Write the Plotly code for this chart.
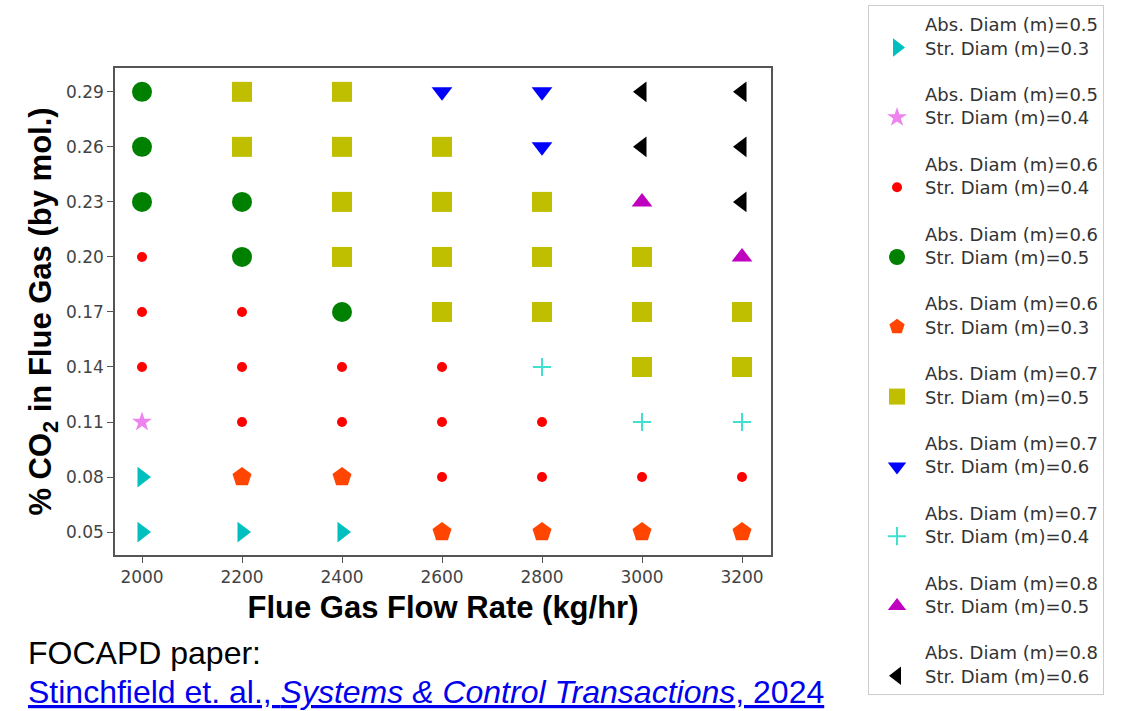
import plotly.graph_objects as go

# Grid of operating conditions
flow_rates = [2000, 2200, 2400, 2600, 2800, 3000, 3200]
co2_levels = [0.05, 0.08, 0.11, 0.14, 0.17, 0.20, 0.23, 0.26, 0.29]

# Optimal (absorber, stripper) diameters per design point
design_names = [
    "Abs. Diam (m)=0.5<br>Str. Diam (m)=0.3",
    "Abs. Diam (m)=0.5<br>Str. Diam (m)=0.4",
    "Abs. Diam (m)=0.6<br>Str. Diam (m)=0.4",
    "Abs. Diam (m)=0.6<br>Str. Diam (m)=0.5",
    "Abs. Diam (m)=0.6<br>Str. Diam (m)=0.3",
    "Abs. Diam (m)=0.7<br>Str. Diam (m)=0.5",
    "Abs. Diam (m)=0.7<br>Str. Diam (m)=0.6",
    "Abs. Diam (m)=0.7<br>Str. Diam (m)=0.4",
    "Abs. Diam (m)=0.8<br>Str. Diam (m)=0.5",
    "Abs. Diam (m)=0.8<br>Str. Diam (m)=0.6",
]

# Points (flow rate, CO2 fraction) belonging to each design
abs05_str03_x = [2000, 2000, 2200, 2400]
abs05_str03_y = [0.08, 0.05, 0.05, 0.05]

abs05_str04_x = [2000]
abs05_str04_y = [0.11]

abs06_str04_x = [2000, 2000, 2200, 2000, 2200, 2400, 2600, 2200, 2400, 2600, 2800, 2600, 2800, 3000, 3200]
abs06_str04_y = [0.20, 0.17, 0.17, 0.14, 0.14, 0.14, 0.14, 0.11, 0.11, 0.11, 0.11, 0.08, 0.08, 0.08, 0.08]

abs06_str05_x = [2000, 2000, 2000, 2200, 2200, 2400]
abs06_str05_y = [0.29, 0.26, 0.23, 0.23, 0.20, 0.17]

abs06_str03_x = [2200, 2400, 2600, 2800, 3000, 3200]
abs06_str03_y = [0.08, 0.08, 0.05, 0.05, 0.05, 0.05]

abs07_str05_x = [2200, 2400, 2200, 2400, 2600, 2400, 2600, 2800, 2400, 2600, 2800, 3000,
                 2600, 2800, 3000, 3200, 3000, 3200]
abs07_str05_y = [0.29, 0.29, 0.26, 0.26, 0.26, 0.23, 0.23, 0.23, 0.20, 0.20, 0.20, 0.20,
                 0.17, 0.17, 0.17, 0.17, 0.14, 0.14]

abs07_str06_x = [2600, 2800, 2800]
abs07_str06_y = [0.29, 0.29, 0.26]

abs07_str04_x = [2800, 3000, 3200]
abs07_str04_y = [0.14, 0.11, 0.11]

abs08_str05_x = [3000, 3200]
abs08_str05_y = [0.23, 0.20]

abs08_str06_x = [3000, 3200, 3000, 3200, 3200]
abs08_str06_y = [0.29, 0.29, 0.26, 0.26, 0.23]

series_x = [abs05_str03_x, abs05_str04_x, abs06_str04_x, abs06_str05_x, abs06_str03_x,
            abs07_str05_x, abs07_str06_x, abs07_str04_x, abs08_str05_x, abs08_str06_x]
series_y = [abs05_str03_y, abs05_str04_y, abs06_str04_y, abs06_str05_y, abs06_str03_y,
            abs07_str05_y, abs07_str06_y, abs07_str04_y, abs08_str05_y, abs08_str06_y]

# Marker styles: (symbol, color, size)
styles = [
    ("triangle-right", "#00bfbf", 18),
    ("star", "#ee82ee", 15),
    ("circle", "#ff0000", 10),
    ("circle", "#008000", 20),
    ("pentagon", "#ff4500", 20),
    ("square", "#bfbf00", 20),
    ("triangle-down", "#0000ff", 18),
    ("cross-thin", "#40e0d0", 13),
    ("triangle-up", "#bf00bf", 18),
    ("triangle-left", "#000000", 18),
]

fig = go.Figure()
for i, (name, xs, ys, (sym, col, sz)) in enumerate(zip(design_names, series_x, series_y, styles)):
    marker = dict(symbol=sym, color=col, size=sz)
    if sym == "cross-thin":
        marker["line"] = dict(color=col, width=2)
    else:
        marker["line"] = dict(width=0)
    fig.add_trace(go.Scatter(x=xs, y=ys, mode="markers", name=name,
                             legendgroup=f"g{i}", marker=marker))

tick_font = dict(family="DejaVu Sans", size=17, color="#444444")
title_font = dict(family="Liberation Sans, Arial", size=31, color="#000000")

fig.update_xaxes(
    range=[1946, 3258], tickvals=flow_rates, ticktext=[str(v) for v in flow_rates],
    showgrid=False, zeroline=False, showline=True, mirror=True,
    linecolor="#555555", linewidth=1.5, ticks="outside", ticklen=6,
    tickcolor="#555555", tickwidth=1.2, tickfont=tick_font,
    title=dict(text="<b>Flue Gas Flow Rate (kg/hr)</b>", font=title_font, standoff=10),
)
fig.update_yaxes(
    range=[0.0375, 0.303], tickvals=co2_levels, ticktext=[f"{v:.2f}" for v in co2_levels],
    showgrid=False, zeroline=False, showline=True, mirror=True,
    linecolor="#555555", linewidth=1.5, ticks="outside", ticklen=6,
    tickcolor="#555555", tickwidth=1.2, tickfont=tick_font,
    title=dict(text="<b>% CO<sub>2</sub> in Flue Gas (by mol.)</b>", font=title_font, standoff=5),
)

fig.add_annotation(
    text="FOCAPD paper:", xref="paper", yref="paper",
    x=-0.1357, y=-0.201, xanchor="left", yanchor="middle", showarrow=False,
    font=dict(family="Liberation Sans, Arial", size=32, color="#000000"),
)
fig.add_annotation(
    text="<u>Stinchfield et. al., <i>Systems &amp; Control Transactions</i>, 2024</u>",
    xref="paper", yref="paper",
    x=-0.1357, y=-0.281, xanchor="left", yanchor="middle", showarrow=False,
    font=dict(family="Liberation Sans, Arial", size=32, color="#0000ee"),
)

fig.update_layout(
    width=1122, height=711,
    margin=dict(l=115, r=351, t=68, b=156, autoexpand=False),
    paper_bgcolor="white", plot_bgcolor="white",
    showlegend=True,
    legend=dict(
        x=1.1479, y=1.1294, xanchor="left", yanchor="top",
        bgcolor="white", bordercolor="#cccccc", borderwidth=1,
        font=dict(family="DejaVu Sans", size=18, color="#333333"),
        traceorder="grouped", tracegroupgap=20, itemwidth=46, valign="bottom",
        maxheight=2000,
    ),
)

fig.write_html("out.html")
